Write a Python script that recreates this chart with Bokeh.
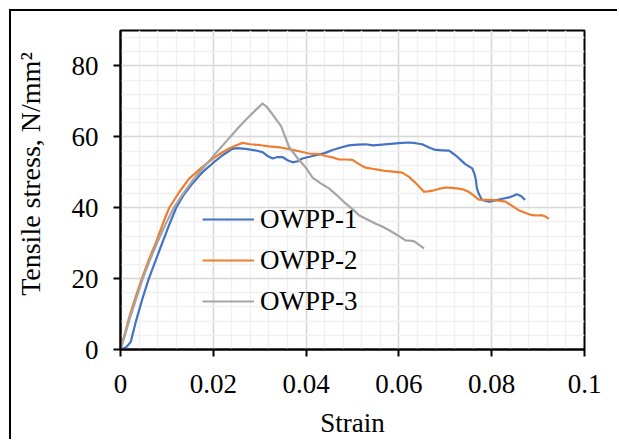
import numpy as np
from bokeh.plotting import figure
from bokeh.models import FixedTicker, Range1d, Legend, LegendItem, LinearAxis
from bokeh.embed import file_html
from bokeh.resources import INLINE

# ---------------- data ----------------
owpp1_strain = [0.0, 0.0012, 0.0022, 0.0034, 0.0047, 0.0061, 0.0084, 0.0102, 0.0120, 0.0137,
                0.0155, 0.0178, 0.0200, 0.0220, 0.0241, 0.0252, 0.0270, 0.0290, 0.0306, 0.0318,
                0.0328, 0.0338, 0.0349, 0.0360, 0.0371, 0.0382, 0.0392, 0.0405, 0.0421, 0.0440,
                0.0457, 0.0475, 0.0492, 0.0510, 0.0528, 0.0545, 0.0564, 0.0582, 0.0600, 0.0622,
                0.0636, 0.0650, 0.0665, 0.0679, 0.0694, 0.0708, 0.0722, 0.0733, 0.0743, 0.0758,
                0.0763, 0.0766, 0.0768, 0.0772, 0.0779, 0.0794, 0.0805, 0.0815, 0.0826, 0.0837,
                0.0846, 0.0854, 0.0863, 0.0872]
owpp1_stress = [0.0, 0.6, 2.1, 8.3, 14.2, 20.0, 28.0, 34.2, 40.0, 43.8,
                46.8, 50.2, 52.7, 54.8, 56.6, 56.8, 56.6, 56.2, 55.7, 54.5,
                53.9, 54.3, 54.3, 53.4, 52.8, 53.1, 53.9, 54.3, 54.8, 55.4,
                56.3, 57.0, 57.6, 57.8, 57.9, 57.6, 57.8, 58.0, 58.2, 58.4,
                58.2, 57.9, 57.0, 56.3, 56.2, 56.1, 54.8, 53.5, 52.3, 51.1,
                49.5, 47.8, 45.5, 44.0, 42.2, 41.7, 42.0, 42.3, 42.6, 42.9,
                43.3, 43.8, 43.3, 42.2]

owpp2_strain = [0.0, 0.0010, 0.0019, 0.0032, 0.0046, 0.0061, 0.0077, 0.0091, 0.0105, 0.0126,
                0.0148, 0.0175, 0.0200, 0.0218, 0.0234, 0.0250, 0.0263, 0.0280, 0.0299, 0.0320,
                0.0345, 0.0371, 0.0390, 0.0406, 0.0428, 0.0442, 0.0457, 0.0471, 0.0485, 0.0500,
                0.0514, 0.0528, 0.0543, 0.0557, 0.0575, 0.0593, 0.0607, 0.0622, 0.0629, 0.0636,
                0.0645, 0.0654, 0.0663, 0.0672, 0.0686, 0.0700, 0.0715, 0.0729, 0.0740, 0.0750,
                0.0761, 0.0772, 0.0786, 0.0801, 0.0815, 0.0830, 0.0844, 0.0858, 0.0872, 0.0887,
                0.0898, 0.0908, 0.0916, 0.0923]
owpp2_stress = [0.0, 4.8, 9.2, 14.6, 20.0, 25.3, 30.4, 35.4, 40.0, 44.3,
                48.2, 51.3, 53.9, 55.5, 56.7, 57.6, 58.3, 57.9, 57.7, 57.3,
                57.0, 56.3, 55.8, 55.3, 55.1, 54.6, 54.2, 53.6, 53.6, 53.5,
                52.3, 51.3, 51.0, 50.7, 50.3, 50.1, 49.9, 48.7, 47.8, 47.0,
                45.8, 44.5, 44.6, 44.8, 45.3, 45.7, 45.6, 45.4, 45.1, 44.5,
                43.5, 42.3, 42.2, 42.2, 42.0, 41.7, 40.5, 39.3, 38.6, 37.9,
                37.8, 37.9, 37.5, 36.9]

owpp3_strain = [0.0, 0.0010, 0.0019, 0.0033, 0.0048, 0.0064, 0.0080, 0.0097, 0.0115, 0.0135,
                0.0155, 0.0175, 0.0193, 0.0210, 0.0230, 0.0252, 0.0270, 0.0290, 0.0306, 0.0315,
                0.0325, 0.0335, 0.0346, 0.0355, 0.0363, 0.0374, 0.0385, 0.0399, 0.0414, 0.0430,
                0.0450, 0.0468, 0.0485, 0.0500, 0.0514, 0.0532, 0.0550, 0.0564, 0.0578, 0.0590,
                0.0600, 0.0614, 0.0622, 0.0632, 0.0643, 0.0654]
owpp3_stress = [0.0, 4.2, 8.3, 14.0, 20.0, 25.4, 30.4, 35.3, 40.0, 44.0,
                47.6, 50.7, 53.5, 56.1, 59.0, 62.3, 64.8, 67.4, 69.4, 68.5,
                66.8, 65.0, 63.0, 60.0, 57.2, 55.3, 53.4, 51.4, 48.5, 47.0,
                45.4, 43.3, 41.2, 39.6, 37.9, 36.7, 35.5, 34.7, 33.7, 32.8,
                32.0, 30.8, 30.7, 30.6, 29.6, 28.5]

series_names = ["OWPP-1", "OWPP-2", "OWPP-3"]
series_colors = ["#4472C4", "#ED7D31", "#A5A5A5"]

x_ticks = [0.0, 0.02, 0.04, 0.06, 0.08, 0.1]
x_tick_labels = ["0", "0.02", "0.04", "0.06", "0.08", "0.1"]
y_ticks = [0, 20, 40, 60, 80]
y_tick_labels = ["0", "20", "40", "60", "80"]

x_title = "Strain"
y_title = "Tensile stress, N/mm\u00b2"

# ---------------- figure ----------------
FONT = "Liberation Serif"

p = figure(width=608, height=430, output_backend="svg", toolbar_location=None,
           x_range=Range1d(0, 0.1), y_range=Range1d(0, 90),
           min_border_left=109, min_border_right=35, min_border_top=19, min_border_bottom=92)
p.styles = {"margin-left": "9px", "margin-top": "9px",
            "border-left": "2px solid black", "border-top": "2px solid black"}

p.background_fill_color = "white"
p.border_fill_color = "white"
p.outline_line_color = "black"
p.outline_line_width = 2

x_minor = [round(v, 4) for v in np.arange(0, 0.1001, 0.004)]
y_minor = [round(v, 1) for v in np.arange(0, 90.01, 4)]
p.xaxis.ticker = FixedTicker(ticks=x_ticks, minor_ticks=x_minor)
p.yaxis.ticker = FixedTicker(ticks=y_ticks, minor_ticks=y_minor)
p.xaxis.major_label_overrides = {t: l for t, l in zip(x_ticks, x_tick_labels)}
p.yaxis.major_label_overrides = {t: l for t, l in zip(y_ticks, y_tick_labels)}

for ax in (p.xaxis[0], p.yaxis[0]):
    ax.axis_line_color = "black"
    ax.axis_line_width = 2
    ax.major_tick_line_color = "black"
    ax.major_tick_line_width = 2
    ax.major_tick_in = 0
    ax.major_tick_out = 7
    ax.minor_tick_line_color = None
    ax.major_label_text_font = FONT
    ax.major_label_text_font_size = "27px"
    ax.major_label_text_color = "black"
    ax.axis_label_text_font = FONT
    ax.axis_label_text_font_size = "27px"
    ax.axis_label_text_font_style = "normal"
    ax.axis_label_text_color = "black"

p.xaxis.major_label_standoff = 18
p.yaxis.major_label_standoff = 15
p.xaxis.axis_label = x_title
p.xaxis.axis_label_standoff = 12

for g in (p.xgrid[0], p.ygrid[0]):
    g.grid_line_color = "#D9D9D9"
    g.grid_line_width = 1.5
    g.minor_grid_line_color = "#F0F0F0"
    g.minor_grid_line_width = 1.5
    g.level = "underlay"

# y-axis title: an outer, line-less axis carrying one label, so it can sit
# above the frame centre as in the reference
TITLE_AT = 49.5
title_axis = LinearAxis(ticker=FixedTicker(ticks=[TITLE_AT], minor_ticks=[]),
                        major_label_overrides={TITLE_AT: y_title},
                        major_label_orientation="parallel",
                        axis_line_color=None, major_tick_line_color=None,
                        minor_tick_line_color=None, major_tick_in=0, major_tick_out=0,
                        major_label_standoff=22, major_label_text_font=FONT,
                        major_label_text_font_size="28px", major_label_text_color="black")
p.add_layout(title_axis, "left")

renderers = []
for xs, ys, c in zip([owpp1_strain, owpp2_strain, owpp3_strain],
                     [owpp1_stress, owpp2_stress, owpp3_stress], series_colors):
    r = p.line(xs, ys, line_color=c, line_width=2.2, line_join="round")
    renderers.append(r)

legend = Legend(items=[LegendItem(label=n, renderers=[r]) for n, r in zip(series_names, renderers)],
                location=(82, 28), orientation="vertical",
                background_fill_alpha=0, border_line_color=None,
                padding=0, margin=0, spacing=1,
                glyph_width=52, glyph_height=40, label_standoff=6,
                label_text_font=FONT, label_text_font_size="27px", label_text_color="black")
p.add_layout(legend, "center")

open("out.html", "w").write(file_html(p, INLINE))
